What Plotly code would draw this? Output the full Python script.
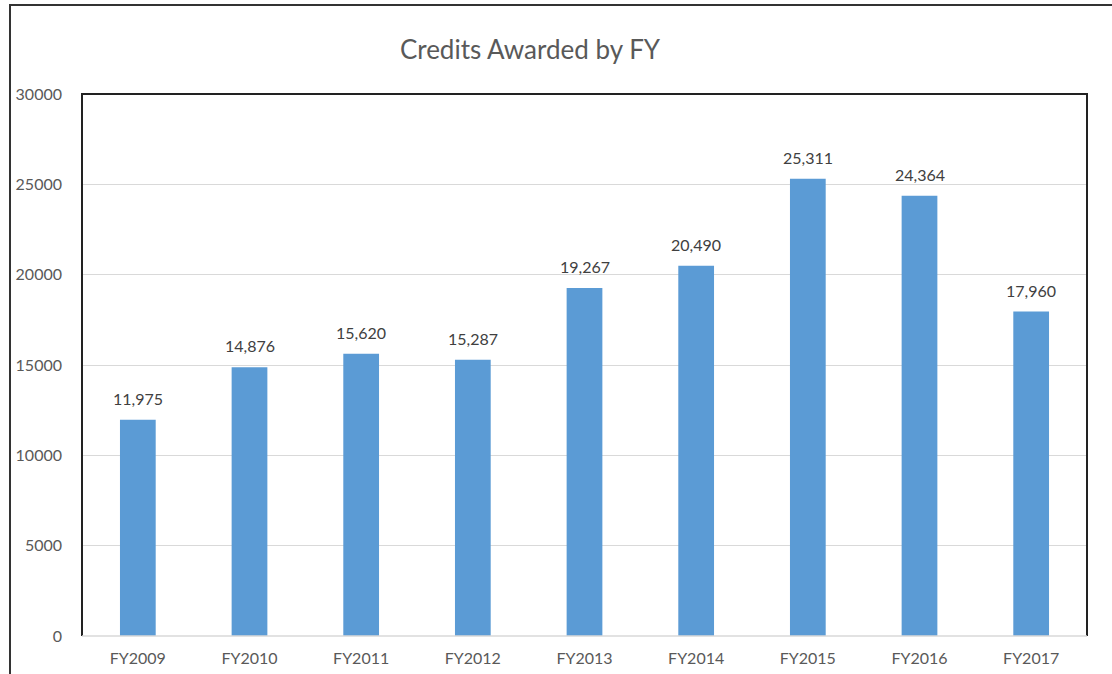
import plotly.graph_objects as go

categories = ["FY2009", "FY2010", "FY2011", "FY2012", "FY2013", "FY2014", "FY2015", "FY2016", "FY2017"]
credits = [11975, 14876, 15620, 15287, 19267, 20490, 25311, 24364, 17960]
y_ticks = [0, 5000, 10000, 15000, 20000, 25000, 30000]

W, H = 1112, 674
ML, MR, MT, MB = 82, 25, 94, 38
pw = W - ML - MR
ph = H - MT - MB
FONT = "Lato, Open Sans, sans-serif"

fig = go.Figure(go.Bar(
    x=categories, y=credits,
    marker=dict(color="#5B9BD5", line=dict(width=0)),
    hoverinfo="x+y",
))

for c, v in zip(categories, credits):
    fig.add_annotation(x=c, y=v, text=f"{v:,}", showarrow=False, yanchor="bottom", yshift=10,
                       font=dict(family=FONT, size=16, color="#404040"))

def px_x(p):
    return (p - ML) / pw

def px_y(p):
    return (H - MB - p) / ph

fig.update_layout(
    width=W, height=H,
    margin=dict(l=ML, r=MR, t=MT, b=MB, pad=0, autoexpand=False),
    paper_bgcolor="white", plot_bgcolor="white",
    bargap=0.68,
    showlegend=False,
    title=dict(text="Credits Awarded by FY", x=530 / W, xanchor="center",
               y=1 - 50 / H, yanchor="middle",
               font=dict(family=FONT, size=26, color="#595959")),
    xaxis=dict(showgrid=False, showline=False, ticks="", zeroline=False, ticklabelstandoff=11,
               automargin=False,
               tickfont=dict(family=FONT, size=16, color="#595959")),
    yaxis=dict(range=[0, 30000], tickvals=y_ticks, ticktext=[str(t) for t in y_ticks],
               showgrid=True, gridcolor="#D9D9D9", gridwidth=1, zeroline=False,
               showline=False, ticks="", ticklabelstandoff=19, automargin=False,
               tickfont=dict(family=FONT, size=16, color="#595959")),
    shapes=[
        dict(type="rect", xref="paper", yref="paper", x0=px_x(10), x1=px_x(1140), y0=px_y(700), y1=px_y(5),
             line=dict(color="#333333", width=2), fillcolor="rgba(0,0,0,0)", layer="above"),
        dict(type="path", xref="paper", yref="paper",
             path="M 0 0 L 0 1 L 1 1 L 1 0", line=dict(color="#222222", width=2), layer="above"),
        dict(type="line", xref="paper", yref="paper", x0=0, x1=1, y0=0, y1=0,
             line=dict(color="#D9D9D9", width=1.5), layer="above"),
    ],
)

fig.write_html("out.html", config={"displayModeBar": False},
               post_script="document.body.style.margin='0';")
